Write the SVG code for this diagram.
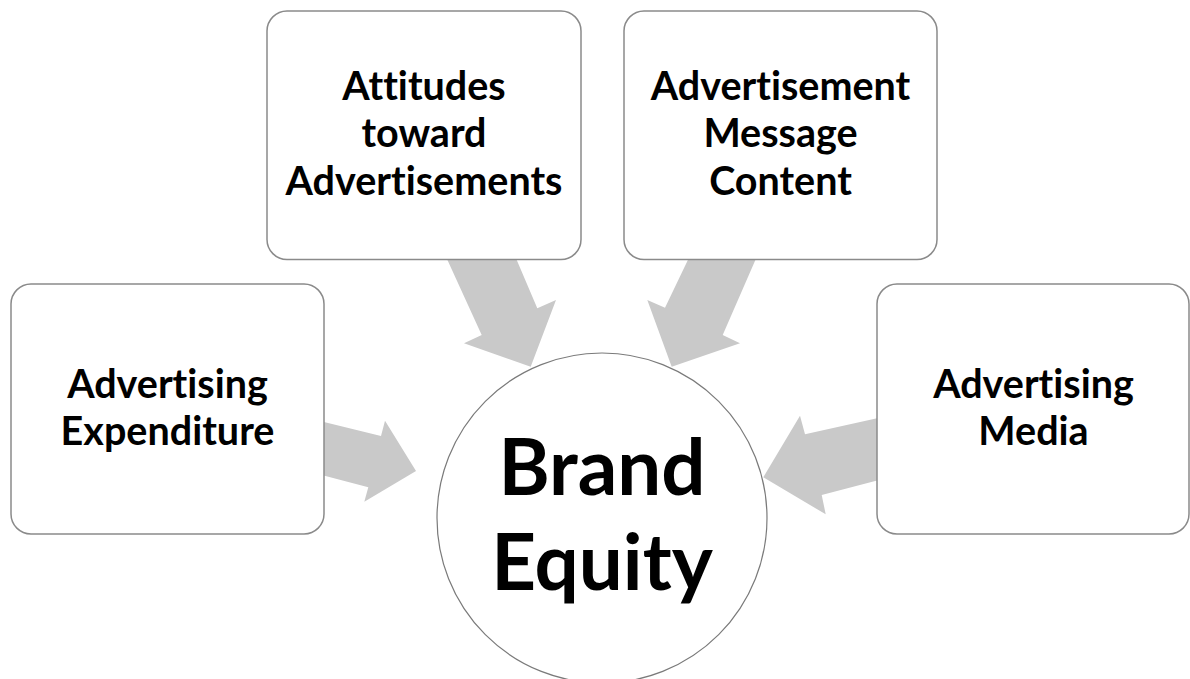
<svg xmlns="http://www.w3.org/2000/svg" width="1190" height="679" viewBox="0 0 1190 679">
  <style>
    .box { fill: #ffffff; stroke: #8a8a8a; stroke-width: 1.5; }
    .hub { fill: #ffffff; stroke: #7a7a7a; stroke-width: 1.2; }
    .arrow { fill: #c9c9c9; stroke: none; }
    .lbl, .hub-lbl { font-family: Lato, "Liberation Sans", sans-serif; font-weight: bold; fill: #000000; text-anchor: middle; font-variant-ligatures: none; }
    .lbl { font-size: 39.5px; }
    .hub-lbl { font-size: 78px; }
  </style>
  <rect width="1190" height="679" fill="#ffffff"/>

  <!-- block arrows converging on the hub; tails tuck under the boxes -->
  <g id="connectors">
    <polygon class="arrow" points="303.6,416.9 381,436 385,420.7 416,471 364.3,501.7 368.3,487.3 303.6,470.2"/>
    <polygon class="arrow" points="439,241.5 481.7,335 464,343.3 530.7,366.7 556,300 537.3,308.3 508.9,241.6"/>
    <polygon class="arrow" points="696.7,241.6 665,307.7 647.3,300 671.7,366.7 740,343.3 722.7,335 763.4,241.6"/>
    <polygon class="arrow" points="896.2,413.9 805,434.3 800,415.7 763.3,477.3 825.7,514.3 821.7,495 896.2,475.6"/>
  </g>

  <g id="hub">
    <circle class="hub" cx="602" cy="518" r="165"/>
    <text class="hub-lbl" x="602" y="495">Brand</text>
    <text class="hub-lbl" x="602" y="590">Equity</text>
  </g>

  <g id="node-expenditure">
    <rect class="box" x="11" y="284" width="313" height="250" rx="20"/>
    <text class="lbl" x="167.5" y="398">Advertising</text>
    <text class="lbl" x="167.5" y="445">Expenditure</text>
  </g>

  <g id="node-attitudes">
    <rect class="box" x="267" y="11" width="314" height="248.5" rx="20"/>
    <text class="lbl" x="424" y="100">Attitudes</text>
    <text class="lbl" x="424" y="147">toward</text>
    <text class="lbl" x="424" y="195">Advertisements</text>
  </g>

  <g id="node-message">
    <rect class="box" x="624" y="11" width="313" height="248.5" rx="20"/>
    <text class="lbl" x="780.5" y="100">Advertisement</text>
    <text class="lbl" x="780.5" y="147">Message</text>
    <text class="lbl" x="780.5" y="195">Content</text>
  </g>

  <g id="node-media">
    <rect class="box" x="877" y="284" width="312" height="250" rx="20"/>
    <text class="lbl" x="1033.5" y="398">Advertising</text>
    <text class="lbl" x="1033.5" y="445">Media</text>
  </g>
</svg>
